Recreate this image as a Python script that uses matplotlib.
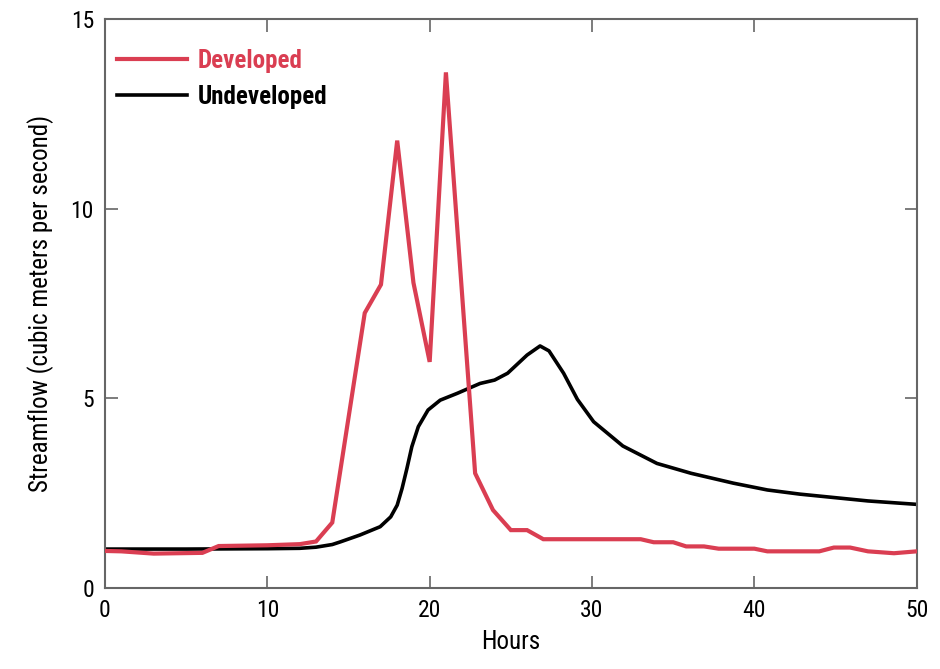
import matplotlib
matplotlib.use("Agg")
import matplotlib.pyplot as plt
from matplotlib import font_manager

names = {f.name for f in font_manager.fontManager.ttflist}
fam = [n for n in ["Liberation Sans Narrow", "Roboto Condensed", "DejaVu Sans"] if n in names]
plt.rcParams['font.family'] = fam

# Data
dev_x = [0, 1, 3, 6, 7, 10, 12, 13, 14, 16, 17, 18, 19, 20, 21, 22.8, 23.9, 25, 26, 27,
         30.5, 33, 33.8, 35, 35.8, 36.9, 37.8, 40, 40.8, 44, 44.9, 45.9, 47, 48.6, 50]
dev_y = [0.97, 0.96, 0.90, 0.92, 1.10, 1.12, 1.15, 1.22, 1.72, 7.25, 8.0, 11.8, 8.05, 5.96, 13.6,
         3.02, 2.05, 1.52, 1.52, 1.28,
         1.28, 1.28, 1.2, 1.2, 1.09, 1.09, 1.03, 1.03, 0.96, 0.96, 1.06, 1.06, 0.96, 0.91, 0.96]

und_x = [0, 5, 10, 12, 13, 14, 14.5, 15.7, 16.95, 17.6, 18.0, 18.3, 18.6, 18.9, 19.3, 19.9,
         20.65, 21.7, 23.1, 24.0, 24.8, 26.0, 26.8, 27.35, 28.25, 29.1, 30.1, 31.9, 34.0, 36.1,
         38.7, 40.8, 42.8, 44.9, 47, 50]
und_y = [1.02, 1.02, 1.03, 1.04, 1.07, 1.14, 1.21, 1.39, 1.61, 1.87, 2.18, 2.62, 3.15, 3.72,
         4.25, 4.69, 4.95, 5.13, 5.39, 5.48, 5.66, 6.14, 6.38, 6.25, 5.66, 4.97, 4.38, 3.74,
         3.28, 3.02, 2.76, 2.58, 2.47, 2.38, 2.29, 2.2]

x_ticks = [0, 10, 20, 30, 40, 50]
y_ticks = [0, 5, 10, 15]

RED = '#DA3E52'

fig = plt.figure(figsize=(9.4, 6.69), dpi=100)
ax = fig.add_axes([0.1117, 0.1215, 0.8635, 0.8496])

ax.plot(dev_x, dev_y, color=RED, lw=3.0, label='Developed', solid_joinstyle='miter', zorder=3)
ax.plot(und_x, und_y, color='black', lw=2.6, label='Undeveloped', zorder=2,
        solid_joinstyle='round')

ax.set_xlim(0, 50)
ax.set_ylim(0, 15)
ax.set_xticks(x_ticks)
ax.set_yticks(y_ticks)
ax.tick_params(direction='in', length=9, width=1.2, color='#666666',
               top=True, right=True, labelsize=17, pad=8)
for s in ax.spines.values():
    s.set_color('#666666')
    s.set_linewidth(1.5)

ax.set_xlabel('Hours', fontsize=18, labelpad=6)
ax.set_ylabel('Streamflow (cubic meters per second)', fontsize=18, labelpad=12)

leg = ax.legend(loc='upper left', frameon=False, fontsize=18, handlelength=2.8,
                handletextpad=0.4, labelspacing=0.5, borderaxespad=0.0,
                bbox_to_anchor=(0.003, 0.966))
for t, c in zip(leg.get_texts(), [RED, 'black']):
    t.set_color(c)
    t.set_fontweight('bold')

fig.savefig('out.png', dpi=100)
